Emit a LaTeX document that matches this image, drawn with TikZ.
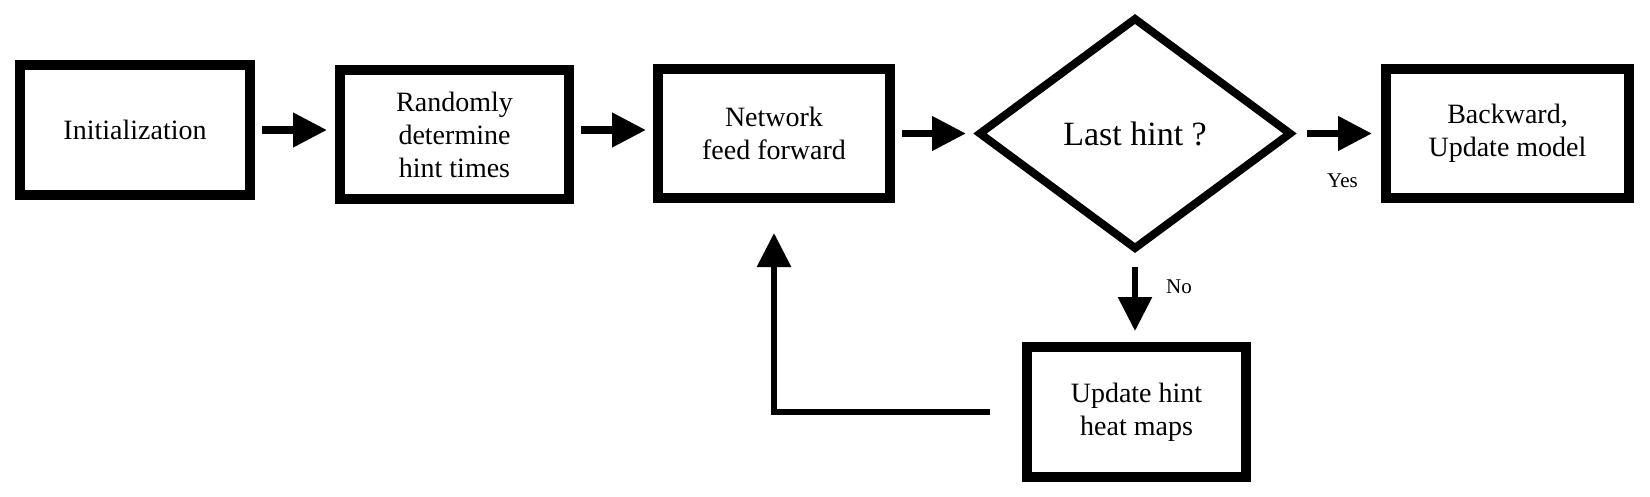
\documentclass[tikz,border=0pt]{standalone}
\usepackage{fontspec}
\setmainfont{Liberation Serif}
\usetikzlibrary{arrows.meta,shapes.geometric,calc}
\begin{document}
\begin{tikzpicture}[x=1pt,y=-1pt,
  box/.style={draw=black,line width=10pt,rectangle,inner sep=0pt,outer sep=0pt,align=center,font=\fontsize{28}{33}\selectfont},
  dec/.style={draw=black,line width=8pt,diamond,inner sep=0pt,outer sep=0pt,minimum width=310pt,minimum height=229pt,font=\fontsize{34}{40}\selectfont},
  arr/.style={line width=7.5pt,-{Triangle[length=34pt,width=33pt]}},
  varr/.style={line width=6pt,-{Triangle[length=34pt,width=33pt]}},
  lbl/.style={inner sep=0pt,outer sep=0pt,font=\fontsize{21}{25}\selectfont}]
\fill[white] (0,0) rectangle (1650,496);
\useasboundingbox (0,0) rectangle (1650,496);
\node[box,minimum width=230pt,minimum height=130pt] (b1) at (135,130) {Initialization};
\node[box,minimum width=229pt,minimum height=129pt] (b2) at (454.5,134.5) {Randomly\\determine\\hint times};
\node[box,minimum width=232pt,minimum height=129pt] (b3) at (774,133.5) {Network\\feed forward};
\node[dec] (d) at (1135,133.5) {Last hint ?};
\node[box,minimum width=243pt,minimum height=129pt] (b5) at (1507.5,133.5) {Backward,\\Update model};
\node[box,minimum width=219pt,minimum height=130pt] (b6) at (1136.5,412) {Update hint\\heat maps};
\node[lbl] (yes) at (1342.5,181) {Yes};
\node[lbl] (no) at (1179,287) {No};
\draw[arr,shorten <=12pt,shorten >=13pt] (b1.east) -- (b1.east -| b2.west);
\draw[arr,shorten <=12pt,shorten >=12pt] (b2.east |- b1) -- (b3.west |- b1);
\draw[arr,shorten <=12pt,shorten >=14pt] (b3.east) -- (d.west);
\draw[arr,shorten <=17pt,shorten >=14pt] (d.east) -- (b5.west);
\draw[varr,shorten <=19pt,shorten >=16pt] (d.south) -- (d.south |- b6.north);
\draw[varr,shorten <=37pt,shorten >=35pt] (b6.west) -| (b3.south);
\end{tikzpicture}
\end{document}
